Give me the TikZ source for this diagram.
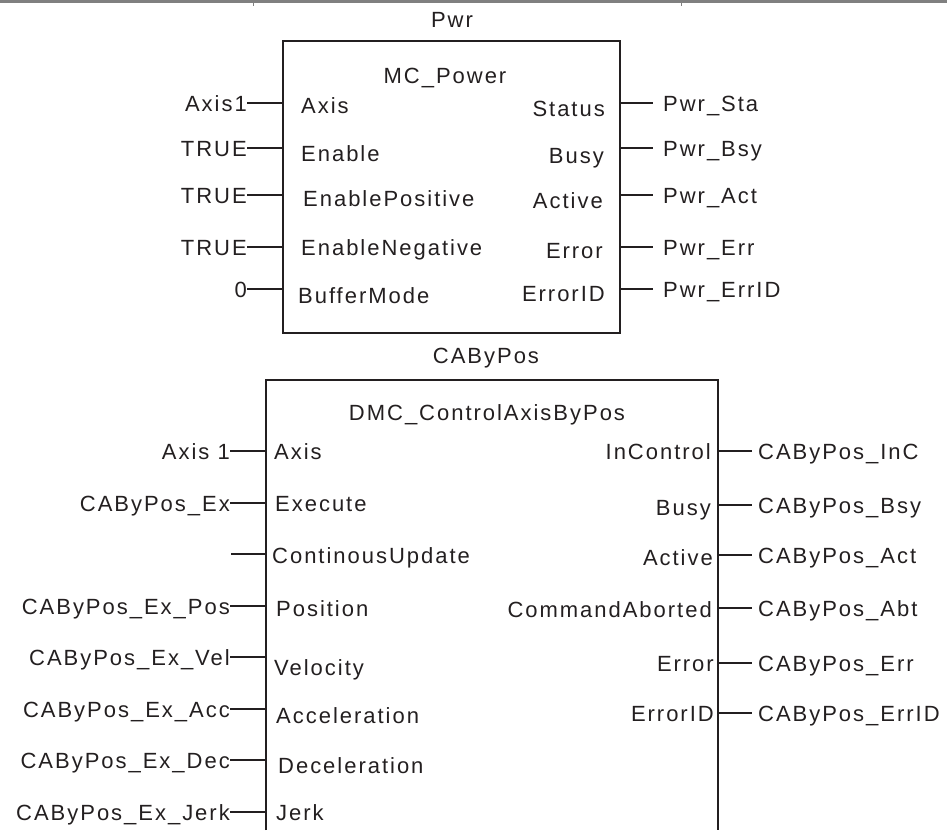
\documentclass[tikz,border=0pt]{standalone}
\usepackage{fontspec}
\setmainfont{Liberation Sans}[LetterSpace=9]
\definecolor{ink}{HTML}{231F20}
\definecolor{rulegray}{HTML}{808080}
\begin{document}
\begin{tikzpicture}[x=1pt,y=-1pt,
  every node/.style={font=\fontsize{22}{26}\selectfont, text=ink, inner sep=0pt, text height=16pt, text depth=0pt},
  fbox/.style={draw=ink, line width=1.6pt},
  wire/.style={draw=ink, line width=1.3pt},
  pinL/.style={anchor=west},
  pinR/.style={anchor=east}]
\useasboundingbox (0,0) rectangle (947,830);

% top rule of the page
\draw[rulegray, line width=3pt] (0,1.5) -- (947,1.5);
\draw[rulegray, line width=1pt] (253,0) -- (253,6) (681,0) -- (681,6);

% ===== MC_Power block =====
\node (pwrname) at (452,19) {Pwr};
\node[fbox, anchor=north west, minimum width=337pt, minimum height=292pt] (pwr) at (282,40) {};
\node (pwrtype) at (445,75) {MC\_Power};

\foreach \y/\t/\n in {103/Axis1/a, 148/TRUE/b, 195/TRUE/c, 247/TRUE/d, 289/0/e} {
  \coordinate (pwrIn\n) at (282,\y);
  \node[anchor=east] (pwrL\n) at (247,\y) {\t};
  \draw[wire] (pwrL\n.east) -- (pwrIn\n);
}
\foreach \x/\y/\t/\n in {301/105/Axis/a, 301/153/Enable/b, 303/198/EnablePositive/c, 301/247/EnableNegative/d, 298/295/BufferMode/e} {
  \node[pinL] (pwrPI\n) at (\x,\y) {\t};
}
\foreach \x/\y/\t/\n in {605/108/Status/a, 604/155/Busy/b, 603/200/Active/c, 603/250/Error/d, 605/293/ErrorID/e} {
  \node[pinR] (pwrPO\n) at (\x,\y) {\t};
}
\foreach \y/\t/\n in {103/Pwr\_Sta/a, 148/Pwr\_Bsy/b, 195/Pwr\_Act/c, 247/Pwr\_Err/d, 289/Pwr\_ErrID/e} {
  \coordinate (pwrOut\n) at (619,\y);
  \node[anchor=west] (pwrR\n) at (663,\y) {\t};
  \draw[wire] (pwrOut\n) -- ([xshift=-10pt]pwrR\n.west);
}

% ===== DMC_ControlAxisByPos block =====
\node (caname) at (486,355) {CAByPos};
\coordinate (caBL) at (266,830);
\coordinate (caTL) at (266,380);
\coordinate (caTR) at (718,380);
\coordinate (caBR) at (718,830);
\draw[fbox] (caBL) -- (caTL) -- (caTR) -- (caBR);
\node (catype) at (487,412) {DMC\_ControlAxisByPos};

\foreach \y/\t/\n in {451/Axis 1/a, 503/CAByPos\_Ex/b, 606/CAByPos\_Ex\_Pos/d, 657/CAByPos\_Ex\_Vel/e, 709/CAByPos\_Ex\_Acc/f, 760/CAByPos\_Ex\_Dec/g, 812/CAByPos\_Ex\_Jerk/h} {
  \coordinate (caIn\n) at (266,\y);
  \node[anchor=east] (caL\n) at (230,\y) {\t};
  \draw[wire] (caL\n.east) -- (caIn\n);
}
\coordinate (caInc) at (266,554);
\coordinate (caFree) at (231,554);
\draw[wire] (caFree) -- (caInc);

\foreach \x/\y/\t/\n in {274/451/Axis/a, 275/503/Execute/b, 272/555/ContinousUpdate/c, 276/608/Position/d, 274/667/Velocity/e, 276/715/Acceleration/f, 278/765/Deceleration/g, 276/812/Jerk/h} {
  \node[pinL] (caPI\n) at (\x,\y) {\t};
}
\foreach \x/\y/\t/\n in {711/451/InControl/a, 711/507/Busy/b, 713/557/Active/c, 712/609/CommandAborted/d, 714/663/Error/e, 714/713/ErrorID/f} {
  \node[pinR] (caPO\n) at (\x,\y) {\t};
}
\foreach \y/\t/\n in {451/CAByPos\_InC/a, 505/CAByPos\_Bsy/b, 555/CAByPos\_Act/c, 608/CAByPos\_Abt/d, 663/CAByPos\_Err/e, 713/CAByPos\_ErrID/f} {
  \coordinate (caOut\n) at (718,\y);
  \node[anchor=west] (caR\n) at (758,\y) {\t};
  \draw[wire] (caOut\n) -- ([xshift=-6pt]caR\n.west);
}
\end{tikzpicture}
\end{document}
